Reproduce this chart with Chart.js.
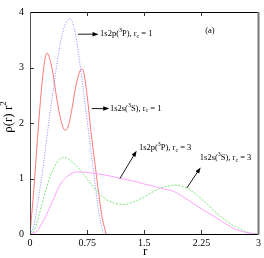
<!DOCTYPE html>
<html>
<head>
<meta charset="utf-8">
<script src="https://cdn.jsdelivr.net/npm/chart.js@4.4.0/dist/chart.umd.min.js"></script>
<style>
  html, body { margin: 0; padding: 0; background: #fff; }
  #wrap { width: 264px; height: 258px; }
</style>
</head>
<body>
<div id="wrap"><canvas id="rhoChart" width="264" height="258"></canvas></div>
<script>
// tick labels
const xTicks = [0, 0.75, 1.5, 2.25, 3];
const yTicks = [0, 1, 2, 3, 4];

// 1s2s(3S), rc = 1  (red, solid)
const s1R = [0, 0.05, 0.1, 0.15, 0.2, 0.225, 0.25, 0.3, 0.35, 0.4, 0.46, 0.5, 0.55, 0.6, 0.65, 0.68, 0.7, 0.75, 0.8, 0.85, 0.9, 0.95, 1.0];
const s1Rho = [0, 0.8, 1.75, 2.6, 3.18, 3.26, 3.2, 2.9, 2.45, 2.08, 1.87, 1.93, 2.25, 2.65, 2.92, 2.97, 2.94, 2.5, 1.85, 1.3, 0.75, 0.28, 0];

// 1s2p(3P), rc = 1  (blue, dotted)
const p1R = [0, 0.05, 0.1, 0.15, 0.2, 0.25, 0.3, 0.35, 0.4, 0.45, 0.52, 0.55, 0.6, 0.65, 0.7, 0.75, 0.8, 0.85, 0.9, 0.95, 1.0];
const p1Rho = [0, 0.15, 0.55, 1.0, 1.5, 2.05, 2.55, 3.03, 3.45, 3.73, 3.88, 3.84, 3.58, 3.12, 2.6, 2.05, 1.5, 0.95, 0.42, 0.08, 0];

// 1s2s(3S), rc = 3  (green, dashed)
const s3R = [0, 0.05, 0.1, 0.15, 0.2, 0.25, 0.3, 0.35, 0.44, 0.5, 0.6, 0.7, 0.8, 0.9, 1.0, 1.1, 1.24, 1.3, 1.4, 1.5, 1.6, 1.7, 1.8, 1.9, 2.0, 2.1, 2.2, 2.3, 2.4, 2.5, 2.6, 2.7, 2.8, 2.9, 3.0];
const s3Rho = [0, 0.05, 0.25, 0.5, 0.75, 0.98, 1.15, 1.28, 1.38, 1.35, 1.24, 1.08, 0.9, 0.74, 0.62, 0.56, 0.53, 0.55, 0.6, 0.67, 0.75, 0.82, 0.86, 0.88, 0.86, 0.8, 0.69, 0.57, 0.44, 0.32, 0.21, 0.13, 0.06, 0.015, 0];

// 1s2p(3P), rc = 3  (violet, solid)
const p3R = [0, 0.1, 0.15, 0.2, 0.25, 0.3, 0.35, 0.4, 0.5, 0.62, 0.7, 0.8, 0.9, 1.0, 1.1, 1.2, 1.3, 1.4, 1.5, 1.6, 1.7, 1.8, 1.9, 2.0, 2.1, 2.2, 2.3, 2.4, 2.5, 2.6, 2.7, 2.8, 2.9, 3.0];
const p3Rho = [0, 0.06, 0.18, 0.3, 0.45, 0.6, 0.76, 0.9, 1.05, 1.12, 1.115, 1.1, 1.08, 1.06, 1.03, 1.0, 0.97, 0.94, 0.9, 0.87, 0.83, 0.8, 0.76, 0.68, 0.59, 0.5, 0.41, 0.33, 0.24, 0.16, 0.08, 0.04, 0.012, 0];

// labels with arrows, in data units: arrow from (ax,ay) to (bx,by), text at (tx,ty)
const notes = [
  { text: ['1s2p(', '^3', 'P), r', '_c', ' = 1'], ax: 0.63, ay: 3.6, bx: 0.9, by: 3.6, tx: 0.92, ty: 3.6 },
  { text: ['1s2s(', '^3', 'S), r', '_c', ' = 1'], ax: 0.81, ay: 2.26, bx: 1.04, by: 2.26, tx: 1.05, ty: 2.26 },
  { text: ['1s2p(', '^3', 'P), r', '_c', ' = 3'], ax: 1.18, ay: 1.0, bx: 1.4, by: 1.5, tx: 1.43, ty: 1.55 },
  { text: ['1s2s(', '^3', 'S), r', '_c', ' = 3'], ax: 2.06, ay: 0.83, bx: 2.24, by: 1.2, tx: 2.23, ty: 1.37 },
  { text: ['(a)'], tx: 2.3, ty: 3.67 }
];

const serif = '"Liberation Serif", "DejaVu Serif", serif';

function toPoints(xs, ys) {
  return xs.map((x, i) => ({ x: x, y: ys[i] }));
}

function drawRich(ctx, parts, x, y, size) {
  let cx = x;
  for (const p of parts) {
    let t = p, dy = 0, fs = size;
    if (p[0] === '^') { t = p.slice(1); dy = -size * 0.4; fs = size * 0.7; }
    if (p[0] === '_') { t = p.slice(1); dy = size * 0.25; fs = size * 0.7; }
    ctx.font = fs + 'px ' + serif;
    ctx.fillText(t, cx, y + dy);
    cx += ctx.measureText(t).width;
  }
}

function arrow(ctx, x1, y1, x2, y2) {
  const a = Math.atan2(y2 - y1, x2 - x1);
  const len = 6, w = 2.2;
  ctx.beginPath();
  ctx.moveTo(x1, y1);
  ctx.lineTo(x2 - Math.cos(a) * len * 0.8, y2 - Math.sin(a) * len * 0.8);
  ctx.stroke();
  ctx.beginPath();
  ctx.moveTo(x2, y2);
  ctx.lineTo(x2 - Math.cos(a) * len - Math.sin(a) * w, y2 - Math.sin(a) * len + Math.cos(a) * w);
  ctx.lineTo(x2 - Math.cos(a) * len + Math.sin(a) * w, y2 - Math.sin(a) * len - Math.cos(a) * w);
  ctx.closePath();
  ctx.fill();
}

const framePlugin = {
  id: 'frame',
  afterDraw(chart) {
    const ctx = chart.ctx;
    const area = chart.chartArea;
    const xs = chart.scales.x, ys = chart.scales.y;
    ctx.save();

    // box
    ctx.lineWidth = 1;
    ctx.strokeStyle = '#000';
    ctx.beginPath();
    ctx.moveTo(area.left, area.top + 0.5);
    ctx.lineTo(area.right, area.top + 0.5);
    ctx.moveTo(area.left, area.bottom + 0.5);
    ctx.lineTo(area.right, area.bottom + 0.5);
    ctx.stroke();
    ctx.strokeStyle = '#555';
    ctx.beginPath();
    ctx.moveTo(area.left + 0.5, area.top);
    ctx.lineTo(area.left + 0.5, area.bottom);
    ctx.stroke();
    ctx.lineWidth = 2;
    ctx.strokeStyle = '#777';
    ctx.beginPath();
    ctx.moveTo(area.right, area.top);
    ctx.lineTo(area.right, area.bottom + 1);
    ctx.stroke();

    // inward ticks
    ctx.lineWidth = 1;
    ctx.strokeStyle = '#333';
    ctx.beginPath();
    xTicks.slice(1, -1).forEach(v => {
      const px = Math.round(xs.getPixelForValue(v)) + 0.5;
      ctx.moveTo(px, area.bottom);
      ctx.lineTo(px, area.bottom - 4);
      ctx.moveTo(px, area.top);
      ctx.lineTo(px, area.top + 4);
    });
    yTicks.slice(1, -1).forEach(v => {
      const py = Math.round(ys.getPixelForValue(v)) + 0.5;
      ctx.moveTo(area.left, py);
      ctx.lineTo(area.left + 4, py);
    });
    ctx.stroke();

    // notes
    ctx.fillStyle = '#000';
    ctx.strokeStyle = '#000';
    ctx.lineWidth = 0.9;
    ctx.textBaseline = 'middle';
    ctx.textAlign = 'left';
    notes.forEach(n => {
      if (n.ax !== undefined) {
        arrow(ctx, xs.getPixelForValue(n.ax), ys.getPixelForValue(n.ay),
          xs.getPixelForValue(n.bx), ys.getPixelForValue(n.by));
      }
      drawRich(ctx, n.text, xs.getPixelForValue(n.tx), ys.getPixelForValue(n.ty), 8.5);
    });

    // axis titles
    ctx.font = '13px ' + serif;
    ctx.textAlign = 'center';
    ctx.fillText('r', (area.left + area.right) / 2 + 1, 252);

    ctx.translate(9, 117);
    ctx.rotate(-Math.PI / 2);
    ctx.textAlign = 'left';
    const main = '\u03c1(r) r';
    ctx.font = '13px ' + serif;
    const w1 = ctx.measureText(main).width;
    ctx.font = '9px ' + serif;
    const w2 = ctx.measureText('2').width;
    ctx.font = '13px ' + serif;
    ctx.fillText(main, -(w1 + w2) / 2, 0);
    ctx.font = '9px ' + serif;
    ctx.fillText('2', -(w1 + w2) / 2 + w1, -5);
    ctx.restore();
  }
};

const lineBase = {
  pointRadius: 0,
  borderWidth: 0.9,
  fill: false,
  cubicInterpolationMode: 'monotone'
};

new Chart(document.getElementById('rhoChart'), {
  type: 'line',
  data: {
    datasets: [
      { ...lineBase, label: '1s2p(3P), rc = 3', data: toPoints(p3R, p3Rho), borderColor: '#ff99ff' },
      { ...lineBase, label: '1s2s(3S), rc = 3', data: toPoints(s3R, s3Rho), borderColor: '#66e266', borderDash: [2, 1.5] },
      { ...lineBase, label: '1s2p(3P), rc = 1', data: toPoints(p1R, p1Rho), borderColor: '#8080ff', borderDash: [1, 1.5] },
      { ...lineBase, label: '1s2s(3S), rc = 1', data: toPoints(s1R, s1Rho), borderColor: '#ff6a6a' }
    ]
  },
  options: {
    responsive: false,
    animation: false,
    layout: { padding: { top: 4, right: 4, left: 0, bottom: 0 } },
    plugins: {
      legend: { display: false },
      tooltip: { enabled: false }
    },
    scales: {
      x: {
        type: 'linear',
        min: 0,
        max: 3,
        afterFit: s => { s.height = 24; },
        afterBuildTicks: s => { s.ticks = xTicks.map(v => ({ value: v })); },
        grid: { display: false, drawTicks: false },
        border: { display: false },
        ticks: {
          padding: 3,
          color: '#000',
          maxRotation: 0,
          font: { family: serif, size: 10 },
          callback: v => String(v)
        }
      },
      y: {
        type: 'linear',
        min: 0,
        max: 4,
        afterFit: s => { s.width = 30; },
        afterBuildTicks: s => { s.ticks = yTicks.map(v => ({ value: v })); },
        grid: { display: false, drawTicks: false },
        border: { display: false },
        ticks: {
          padding: 6,
          color: '#000',
          font: { family: serif, size: 10 }
        }
      }
    }
  },
  plugins: [framePlugin]
});
</script>
</body>
</html>
